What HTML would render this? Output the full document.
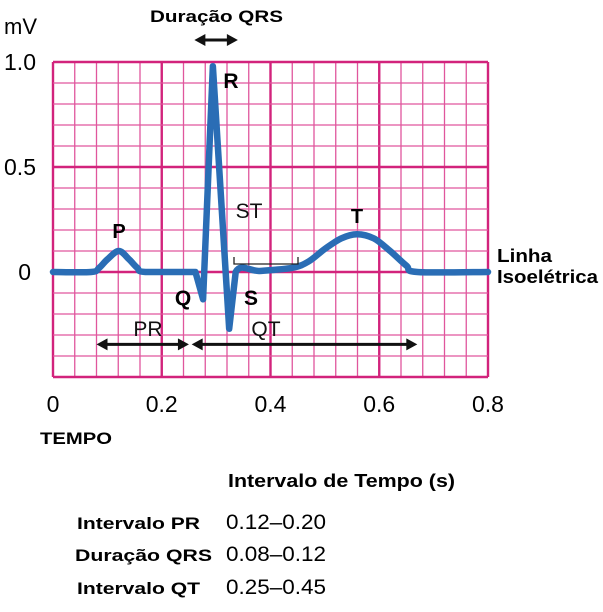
<!DOCTYPE html>
<html><head><meta charset="utf-8"><style>
html,body{margin:0;padding:0;background:#fff;}
body{width:603px;height:607px;overflow:hidden;font-family:"Liberation Sans",sans-serif;}
</style></head><body>
<svg id="chart" width="603" height="607" xmlns="http://www.w3.org/2000/svg" font-family="Liberation Sans, sans-serif">
<g id="grid"></g>
<g id="trace"></g>
<g id="labels">
  <text x="4" y="34" font-size="22">mV</text>
  <text x="150" y="22" font-size="17" font-weight="bold" textLength="133" lengthAdjust="spacingAndGlyphs">Duração QRS</text>
  <text x="40" y="444" font-size="17" font-weight="bold" textLength="72" lengthAdjust="spacingAndGlyphs">TEMPO</text>
  <text x="497" y="262" font-size="18" font-weight="bold" textLength="55" lengthAdjust="spacingAndGlyphs">Linha</text>
  <text x="497" y="283" font-size="18" font-weight="bold" textLength="101" lengthAdjust="spacingAndGlyphs">Isoelétrica</text>
  <text x="119" y="238" font-size="20" font-weight="bold" text-anchor="middle">P</text>
  <text x="183" y="305" font-size="21" font-weight="bold" text-anchor="middle">Q</text>
  <text x="231" y="88" font-size="21" font-weight="bold" text-anchor="middle">R</text>
  <text x="251" y="305" font-size="21" font-weight="bold" text-anchor="middle">S</text>
  <text x="357" y="223" font-size="20" font-weight="bold" text-anchor="middle">T</text>
  <text x="249" y="218" font-size="21" text-anchor="middle" fill="#111">ST</text>
  <text x="148" y="336" font-size="21" text-anchor="middle" fill="#111">PR</text>
  <text x="266" y="336" font-size="21" text-anchor="middle" fill="#111">QT</text>
  <path d="M234,257 V264 H298 V257" fill="none" stroke="#222" stroke-width="1.3"/>
  <text x="228" y="487" font-size="18" font-weight="bold" textLength="227" lengthAdjust="spacingAndGlyphs">Intervalo de Tempo (s)</text>
  <text x="77" y="529" font-size="17" font-weight="bold" textLength="123" lengthAdjust="spacingAndGlyphs">Intervalo PR</text>
  <text x="75" y="561" font-size="17" font-weight="bold" textLength="137" lengthAdjust="spacingAndGlyphs">Duração QRS</text>
  <text x="77" y="594" font-size="17" font-weight="bold" textLength="123" lengthAdjust="spacingAndGlyphs">Intervalo QT</text>
  <text x="226" y="529" font-size="21" textLength="100" lengthAdjust="spacingAndGlyphs">0.12–0.20</text>
  <text x="226" y="561" font-size="21" textLength="100" lengthAdjust="spacingAndGlyphs">0.08–0.12</text>
  <text x="226" y="594" font-size="21" textLength="100" lengthAdjust="spacingAndGlyphs">0.25–0.45</text>
</g>
<g id="arrows"></g>
</svg>
<script>
const xTicks=[0,0.2,0.4,0.6,0.8];
const xTickLabels=["0","0.2","0.4","0.6","0.8"];
const yTicks=[0,0.5,1.0];
const yTickLabels=["0","0.5","1.0"];
const traceTime=[0,0.07,0.085,0.1,0.121,0.14,0.155,0.17,0.262,0.276,0.294,0.324,0.336,0.38,0.44,0.47,0.5,0.53,0.559,0.59,0.62,0.65,0.67,0.8];
const traceMv=[0,0,0.02,0.06,0.1,0.06,0.02,0,0,-0.13,0.98,-0.27,0,0.005,0.02,0.05,0.11,0.16,0.18,0.16,0.1,0.03,0,0];
const arrowStart=[0.26,0.08,0.255];
const arrowEnd=[0.34,0.25,0.67];
const arrowMv=[1.1,-0.34,-0.34];
const arrowNames=["qrs-duration-arrow","pr-interval-arrow","qt-interval-arrow"];

const X0=53,X1=488,Y0=272,PXMV=210;
const xs=t=>X0+(t/0.8)*(X1-X0);
const ys=v=>Y0-v*PXMV;
const NS="http://www.w3.org/2000/svg";
function mk(tag,attrs,parent){const e=document.createElementNS(NS,tag);for(const k in attrs)e.setAttribute(k,attrs[k]);parent.appendChild(e);return e;}
const grid=document.getElementById('grid');
mk('rect',{x:X0,y:ys(1),width:X1-X0,height:ys(-0.5)-ys(1),fill:'#fff'},grid);
for(let i=0;i<=20;i++){const x=xs(i*0.04);const thick=i%5===0;
 const l=mk('line',{x1:x,x2:x,y1:ys(1),y2:ys(-0.5),stroke:thick?'#d2237c':'#e0569d','stroke-width':thick?2.4:1.3},grid);
 
 }
for(let i=0;i<=15;i++){const v=1-i*0.1;const thick=i%5===0;
 const l=mk('line',{x1:X0,x2:X1,y1:ys(v),y2:ys(v),stroke:thick?'#d2237c':'#e0569d','stroke-width':thick?2.4:1.3},grid);
 
 }
const labels=document.getElementById('labels');
xTicks.forEach((t,i)=>{const e=mk('text',{x:xs(t),y:412,'font-size':23,'text-anchor':'middle'},labels);e.textContent=xTickLabels[i];
 
 });
yTicks.forEach((v,i)=>{const e=mk('text',{x:v===0?31:36,y:ys(v)+8,'font-size':23,'text-anchor':'end'},labels);e.textContent=yTickLabels[i];
 
 });
const pts=traceTime.map((t,i)=>[xs(t),ys(traceMv[i])]);
let d='M'+pts[0][0]+','+pts[0][1];
for(let i=0;i<pts.length-1;i++){
 const sharp=(traceTime[i]>=0.26&&traceTime[i]<0.336)||(traceTime[i+1]>0.26&&traceTime[i+1]<=0.336);
 if(sharp){d+=' L'+pts[i+1][0]+','+pts[i+1][1];continue;}
 const p0=pts[Math.max(0,i-1)],p1=pts[i],p2=pts[i+1],p3=pts[Math.min(pts.length-1,i+2)];
 const c1=[p1[0]+(p2[0]-p0[0])/6,p1[1]+(p2[1]-p0[1])/6],c2=[p2[0]-(p3[0]-p1[0])/6,p2[1]-(p3[1]-p1[1])/6];
 d+=` C${c1[0]},${c1[1]} ${c2[0]},${c2[1]} ${p2[0]},${p2[1]}`;}
const tr=mk('path',{d:d,fill:'none',stroke:'#2a6db5','stroke-width':6.5,'stroke-linejoin':'round','stroke-linecap':'round'},document.getElementById('trace'));


const ag=document.getElementById('arrows');
arrowStart.forEach((s,i)=>{const x1=xs(s),x2=xs(arrowEnd[i]),y=arrowMv[i]===1.1?40:ys(arrowMv[i])+1;
 const g=mk('g',{},ag);
 
 
 mk('line',{x1:x1+6,x2:x2-6,y1:y,y2:y,stroke:'#111','stroke-width':3},g);
 mk('path',{d:`M${x1},${y} l11,-6 v12 z M${x2},${y} l-11,-6 v12 z`,fill:'#111'},g);});
</script>
</body></html>
